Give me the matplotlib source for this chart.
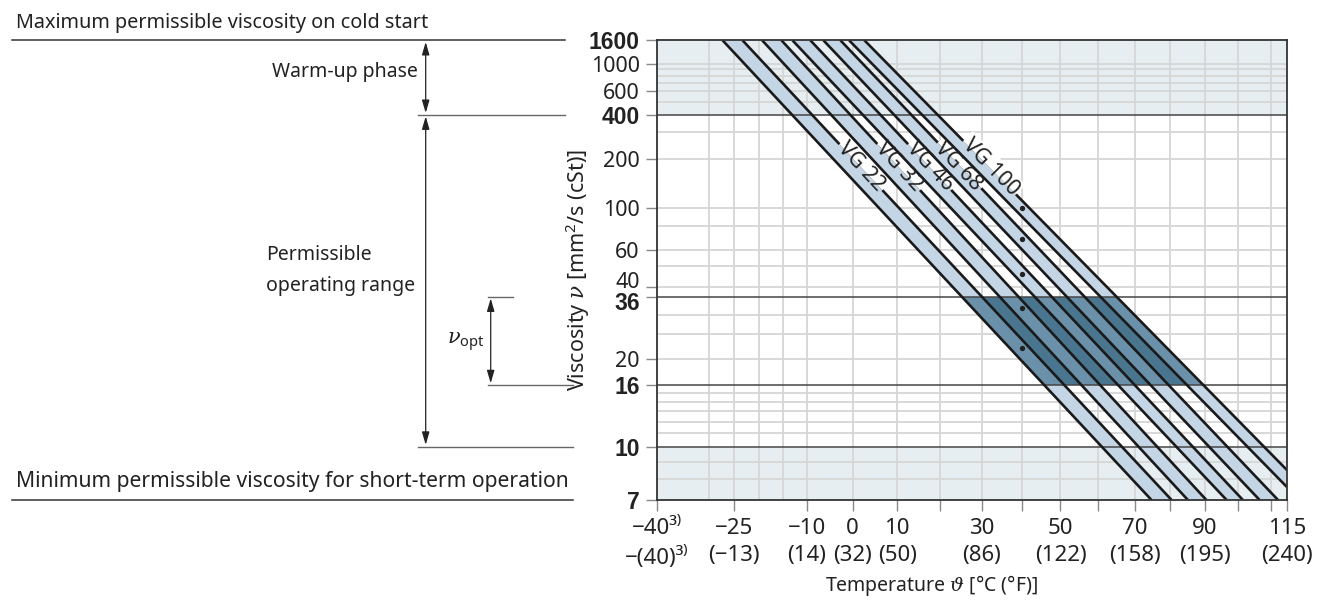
import numpy as np
import matplotlib
matplotlib.use('Agg')
import matplotlib.pyplot as plt
import matplotlib.patches as mpatches
from matplotlib.transforms import blended_transform_factory, ScaledTranslation

plt.rcParams['font.family'] = ['Noto Sans', 'DejaVu Sans']
plt.rcParams['font.size'] = 14
plt.rcParams['mathtext.fontset'] = 'custom'
plt.rcParams['mathtext.rm'] = 'Noto Sans'
plt.rcParams['mathtext.it'] = 'DejaVu Serif:italic'
plt.rcParams['mathtext.bf'] = 'Noto Sans:bold'

# ISO VG grades, nominal viscosity at 40 degC
grades = ['VG 22', 'VG 32', 'VG 46', 'VG 68', 'VG 100']
nominal_visc = [22, 32, 46, 68, 100]
nominal_temp = 40

# band boundary lines (lower/upper per grade): where they leave the top edge (1600)
# and where they leave the chart at the bottom (7) or right edge (115 degC)
line_top_temp = [-27.3, -23.3, -19.3, -15.3, -13.0, -9.2, -6.4, -2.7, -0.8, 2.6]
line_end_temp = [74.7, 80.4, 85.1, 90.5, 96.5, 101.4, 106.5, 112.2, 115, 115]
line_end_visc = [7, 7, 7, 7, 7, 7, 7, 7, 7.6, 8.5]

# grade label positions (on the upper boundary line)
label_temp = [1.9, 10.4, 17.6, 24.3, 32.2]
label_visc = [177, 177, 177, 177, 177]
label_angle = [47.0, 47.2, 46.7, 46.4, 45.3]

# viscosity limits
visc_min, visc_max = 7, 1600
visc_warmup = 400
visc_short = 10
visc_opt = (16, 36)
temp_min, temp_max = -40, 115

y_ticks = [7, 10, 16, 20, 36, 40, 60, 100, 200, 400, 600, 1000, 1600]
y_bold = [7, 10, 16, 36, 400, 1600]
y_grid = [8, 9, 11, 12, 13, 14, 15, 20, 25, 30, 40, 50, 60, 80, 100, 200, 300,
          500, 600, 700, 800, 900, 1000]
y_dark = [10, 16, 36, 400]

x_ticks = [-40, -25, -10, 0, 10, 20, 30, 40, 50, 60, 70, 80, 90, 100, 110, 115]
x_labels = {-40: '\u221240\u00b3\u207e\n\u2212(40)\u00b3\u207e', -25: '\u221225\n(\u221213)',
            -10: '\u221210\n(14)', 0: '0\n(32)', 10: '10\n(50)', 30: '30\n(86)',
            50: '50\n(122)', 70: '70\n(158)', 90: '90\n(195)', 115: '115\n(240)'}
x_grid = [-30, -25, -20, -15, -10, 0, 10, 20, 30, 40, 50, 60, 70, 80, 90, 100, 110]

shade = '#e7eef2'
band = '#c4d5e5'
dark = '#4a758f'
medium = '#6b90aa'
gridc = '#d6d6d6'
textc = '#222222'
linec = '#1a1a1a'


def t_fwd(t):
    return np.log10(np.asarray(t, dtype=float) + 273.15)


def t_inv(x):
    return 10 ** np.asarray(x, dtype=float) - 273.15


def v_fwd(v):
    with np.errstate(invalid='ignore', divide='ignore'):
        return np.log10(np.log10(np.asarray(v, dtype=float) + 0.7))


def v_inv(w):
    return 10 ** (10 ** np.asarray(w, dtype=float)) - 0.7


W, H = 1328, 601


def fx(px):
    return px / W


def fy(py):
    return 1 - py / H


fig = plt.figure(figsize=(W / 100, H / 100), dpi=100)
ax = fig.add_axes([fx(657), fy(500), fx(1287) - fx(657), fy(40.3) - fy(500)])
ax.set_xscale('function', functions=(t_fwd, t_inv))
ax.set_yscale('function', functions=(v_fwd, v_inv))
ax.set_xlim(temp_min, temp_max)
ax.set_ylim(visc_min, visc_max)

ax.axhspan(visc_warmup, visc_max, color=shade, lw=0, zorder=0)
ax.axhspan(visc_min, visc_short, color=shade, lw=0, zorder=0)
for v in y_grid:
    ax.axhline(v, color=gridc, lw=1.3, zorder=1)
for t in x_grid:
    ax.axvline(t, color=gridc, lw=1.3, zorder=1)


def line_poly(i, j):
    # region between boundary line i and boundary line j
    T = [line_top_temp[i], line_top_temp[j], line_end_temp[j], line_end_temp[i]]
    V = [visc_max, visc_max, line_end_visc[j], line_end_visc[i]]
    return T, V


# grade bands
bands = []
for k in range(len(grades)):
    T, V = line_poly(2 * k, 2 * k + 1)
    bands.append((T, V))
    ax.fill(T, V, color=band, lw=0, zorder=2)

# optimum range, dark between outer lines
envelope = mpatches.Polygon(list(zip(*line_poly(0, len(line_top_temp) - 1))),
                            transform=ax.transData)
opt = ax.axhspan(visc_opt[0], visc_opt[1], color=dark, lw=0, zorder=3)
opt.set_clip_path(envelope)
opt_rect = mpatches.Rectangle((0, visc_opt[0]), 1, visc_opt[1] - visc_opt[0],
                              transform=ax.get_yaxis_transform())
for T, V in bands:
    p = ax.fill(T, V, color=medium, lw=0, zorder=3.5)[0]
    p.set_clip_path(opt_rect)

for v in y_dark:
    ax.axhline(v, color='#454545', lw=1.1, zorder=4)

# boundary lines: upper ones (carry the labels) below the label knock-outs
for i in range(len(line_top_temp)):
    ax.plot([line_top_temp[i], line_end_temp[i]], [visc_max, line_end_visc[i]],
            color=linec, lw=1.9, zorder=5 if i % 2 else 6, solid_capstyle='butt')

# label knock-outs: band colour inside the band, white in the gap next to it
for k, g in enumerate(grades):
    u = 2 * k + 1
    band_patch = mpatches.Polygon(list(zip(*bands[k])), transform=ax.transData)
    if u + 1 < len(line_top_temp):
        gT, gV = line_poly(u, u + 1)
    else:
        gT = [line_top_temp[u], temp_max, temp_max, line_end_temp[u]]
        gV = [visc_max, visc_max, visc_min, line_end_visc[u]]
    gap_patch = mpatches.Polygon(list(zip(gT, gV)), transform=ax.transData)
    for fc, clip in [(band, band_patch), ('white', gap_patch)]:
        t = ax.text(label_temp[k], label_visc[k], g, rotation=-label_angle[k],
                    rotation_mode='anchor', ha='center', va='center', color='none',
                    fontsize=15.5, zorder=5.5,
                    bbox=dict(boxstyle='square,pad=0.1', fc=fc, ec='none'))
        t.set_clip_path(clip)
        t.set_clip_on(True)
    ax.text(label_temp[k], label_visc[k], g, rotation=-label_angle[k],
            rotation_mode='anchor', ha='center', va='center', color=textc,
            fontsize=15.5, zorder=7)

ax.plot([nominal_temp] * len(nominal_visc), nominal_visc, 'o', ms=2.8,
        color='#222222', zorder=6.5)

for s in ax.spines.values():
    s.set_color('#333333')
    s.set_linewidth(1.3)
    s.set_zorder(8)

# ticks
ax.minorticks_off()
ax.set_yticks(y_ticks)
ax.set_yticklabels([str(v) for v in y_ticks])
ax.tick_params(axis='y', length=8, width=1, color='#888888', pad=4.5,
               labelcolor=textc, labelsize=15.5)
for tick, v in zip(ax.yaxis.get_major_ticks(), y_ticks):
    if v in y_bold:
        tick.label1.set_fontfamily(['Liberation Sans', 'DejaVu Sans'])
        tick.label1.set_fontweight('bold')
        tick.label1.set_fontsize(16.5)
        tick.tick1line.set_color('#333333')
    if v == 40:
        tick.label1.set_transform(tick.label1.get_transform() +
                                  ScaledTranslation(0, 5 / 72, fig.dpi_scale_trans))
    if v == 36:
        tick.label1.set_transform(tick.label1.get_transform() +
                                  ScaledTranslation(0, -3 / 72, fig.dpi_scale_trans))

ax.set_xticks(x_ticks)
ax.set_xticklabels([x_labels.get(t, '') for t in x_ticks])
ax.tick_params(axis='x', length=8, width=1, color='#888888', pad=5, labelcolor=textc,
               labelsize=16)
for lab in ax.get_xticklabels():
    lab.set_linespacing(1.4)

# left-hand annotation
tr = blended_transform_factory(fig.transFigure, ax.transData)
ax.plot([fx(12), fx(565)], [visc_max] * 2, transform=tr, color='#333333', lw=1.1, clip_on=False)
ax.plot([fx(12), fx(573)], [visc_min] * 2, transform=tr, color='#333333', lw=1.1, clip_on=False)
ax.plot([fx(418), fx(565)], [visc_warmup] * 2, transform=tr, color='#666666', lw=1.0, clip_on=False)
ax.plot([fx(418), fx(573)], [visc_short] * 2, transform=tr, color='#666666', lw=1.0, clip_on=False)
ax.plot([fx(488), fx(513)], [visc_opt[1]] * 2, transform=tr, color='#666666', lw=1.0, clip_on=False)
ax.plot([fx(488), fx(573)], [visc_opt[0]] * 2, transform=tr, color='#666666', lw=1.0, clip_on=False)

arrow = dict(arrowstyle='<|-|>,head_length=0.55,head_width=0.16', color='#222222',
             lw=0.9, shrinkA=1.2, shrinkB=1.2)
for x, v0, v1 in [(425.7, visc_max, visc_warmup), (425.7, visc_warmup, visc_short),
                  (490.7, visc_opt[1], visc_opt[0])]:
    ax.annotate('', xy=(fx(x), v1), xytext=(fx(x), v0), xycoords=tr, textcoords=tr,
                arrowprops=arrow, annotation_clip=False)

fig.text(fx(16), fy(28), 'Maximum permissible viscosity on cold start', ha='left',
         va='baseline', color=textc, fontsize=14.3)
fig.text(fx(418), fy(77), 'Warm-up phase', ha='right', va='baseline', color=textc)
fig.text(fx(266), fy(260), 'Permissible', ha='left', va='baseline', color=textc)
fig.text(fx(266), fy(291), 'operating range', ha='left', va='baseline', color=textc)
fig.text(fx(447), fy(344), r'$\nu_{\mathrm{opt}}$', ha='left', va='baseline', color=textc,
         fontsize=15)
fig.text(fx(16), fy(487), 'Minimum permissible viscosity for short-term operation',
         ha='left', va='baseline', color=textc, fontsize=15.2)
fig.text(fx(578), fy(270), r'Viscosity $\nu$ [mm$^2$/s (cSt)]', rotation=90,
         ha='center', va='center', color=textc, fontsize=15.5)
fig.text(fx(931), fy(586), r'Temperature $\vartheta$ [°C (°F)]', ha='center',
         va='center', color=textc)

plt.savefig('out.png', dpi=100)
